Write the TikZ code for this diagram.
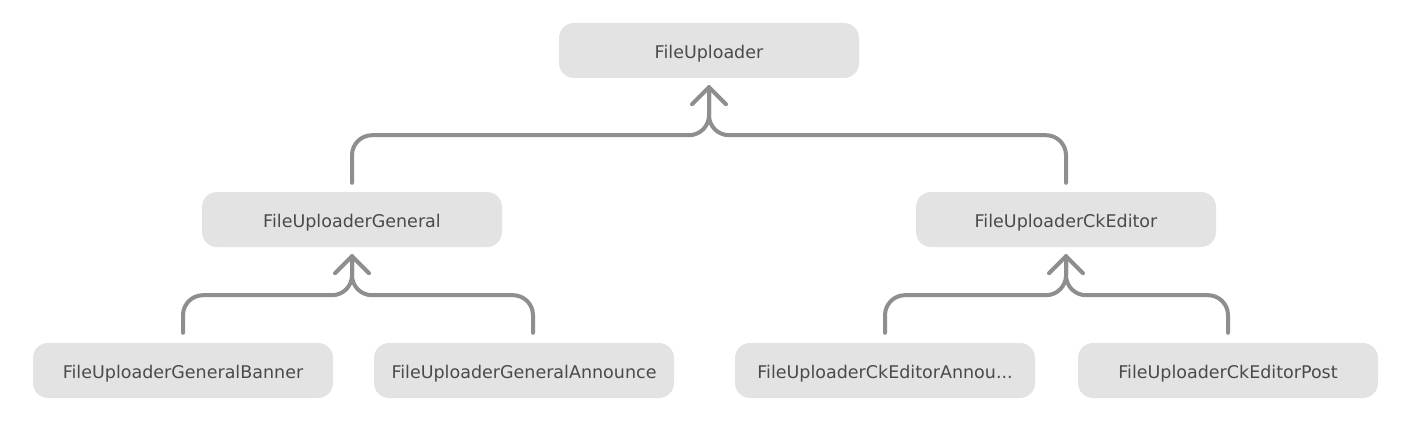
\documentclass[tikz,border=0pt]{standalone}
\usepackage{fontspec}
\setmainfont{DejaVu Sans}
\usetikzlibrary{calc}
\definecolor{boxfill}{HTML}{E3E3E3}
\definecolor{edgecol}{HTML}{8E8E8E}
\definecolor{txtcol}{HTML}{4A4A4A}
\begin{document}
\begin{tikzpicture}[x=1pt,y=-1pt,
  box/.style={fill=boxfill,rounded corners=15pt,minimum width=300pt,minimum height=55pt,inner sep=0pt,text height=16pt,text depth=0pt,text=txtcol,font=\fontsize{17.5}{20}\selectfont},
  link/.style={draw=edgecol,line width=4pt,line cap=round,line join=round,rounded corners=20pt},
  tip/.style={draw=edgecol,line width=4pt,line cap=round,line join=round}]
\useasboundingbox (0,0) rectangle (1416,433);
\fill[white] (0,0) rectangle (1416,433);
\node[box] (root) at (709,50.5) {FileUploader};
\node[box] (gen) at (352,219.5) {FileUploaderGeneral};
\node[box] (ck) at (1066,219.5) {FileUploaderCkEditor};
\node[box] (genban) at (183,370.5) {FileUploaderGeneralBanner};
\node[box] (genann) at (524,370.5) {FileUploaderGeneralAnnounce};
\node[box] (ckann) at (885,370.5) {FileUploaderCkEditorAnnou...};
\node[box] (ckpost) at (1228,370.5) {FileUploaderCkEditorPost};
% top level
\draw[link] ($(gen.north)+(0,-9)$) |- ($(root.south)+(0,57)$) -- ($(root.south)+(0,9)$);
\draw[link] ($(ck.north)+(0,-9)$) |- ($(root.south)+(0,57)$) -- ($(root.south)+(0,9)$);
\draw[tip] ($(root.south)+(-17,26)$) -- ($(root.south)+(0,9)$) -- ($(root.south)+(17,26)$);
% general
\draw[link] ($(genban.north)+(0,-10)$) |- ($(gen.south)+(0,48)$) -- ($(gen.south)+(0,9)$);
\draw[link] ($(genann.north)+(9,-10)$) |- ($(gen.south)+(0,48)$) -- ($(gen.south)+(0,9)$);
\draw[tip] ($(gen.south)+(-17,26)$) -- ($(gen.south)+(0,9)$) -- ($(gen.south)+(17,26)$);
% ckeditor
\draw[link] ($(ckann.north)+(0,-10)$) |- ($(ck.south)+(0,48)$) -- ($(ck.south)+(0,9)$);
\draw[link] ($(ckpost.north)+(0,-10)$) |- ($(ck.south)+(0,48)$) -- ($(ck.south)+(0,9)$);
\draw[tip] ($(ck.south)+(-17,26)$) -- ($(ck.south)+(0,9)$) -- ($(ck.south)+(17,26)$);
\end{tikzpicture}
\end{document}
